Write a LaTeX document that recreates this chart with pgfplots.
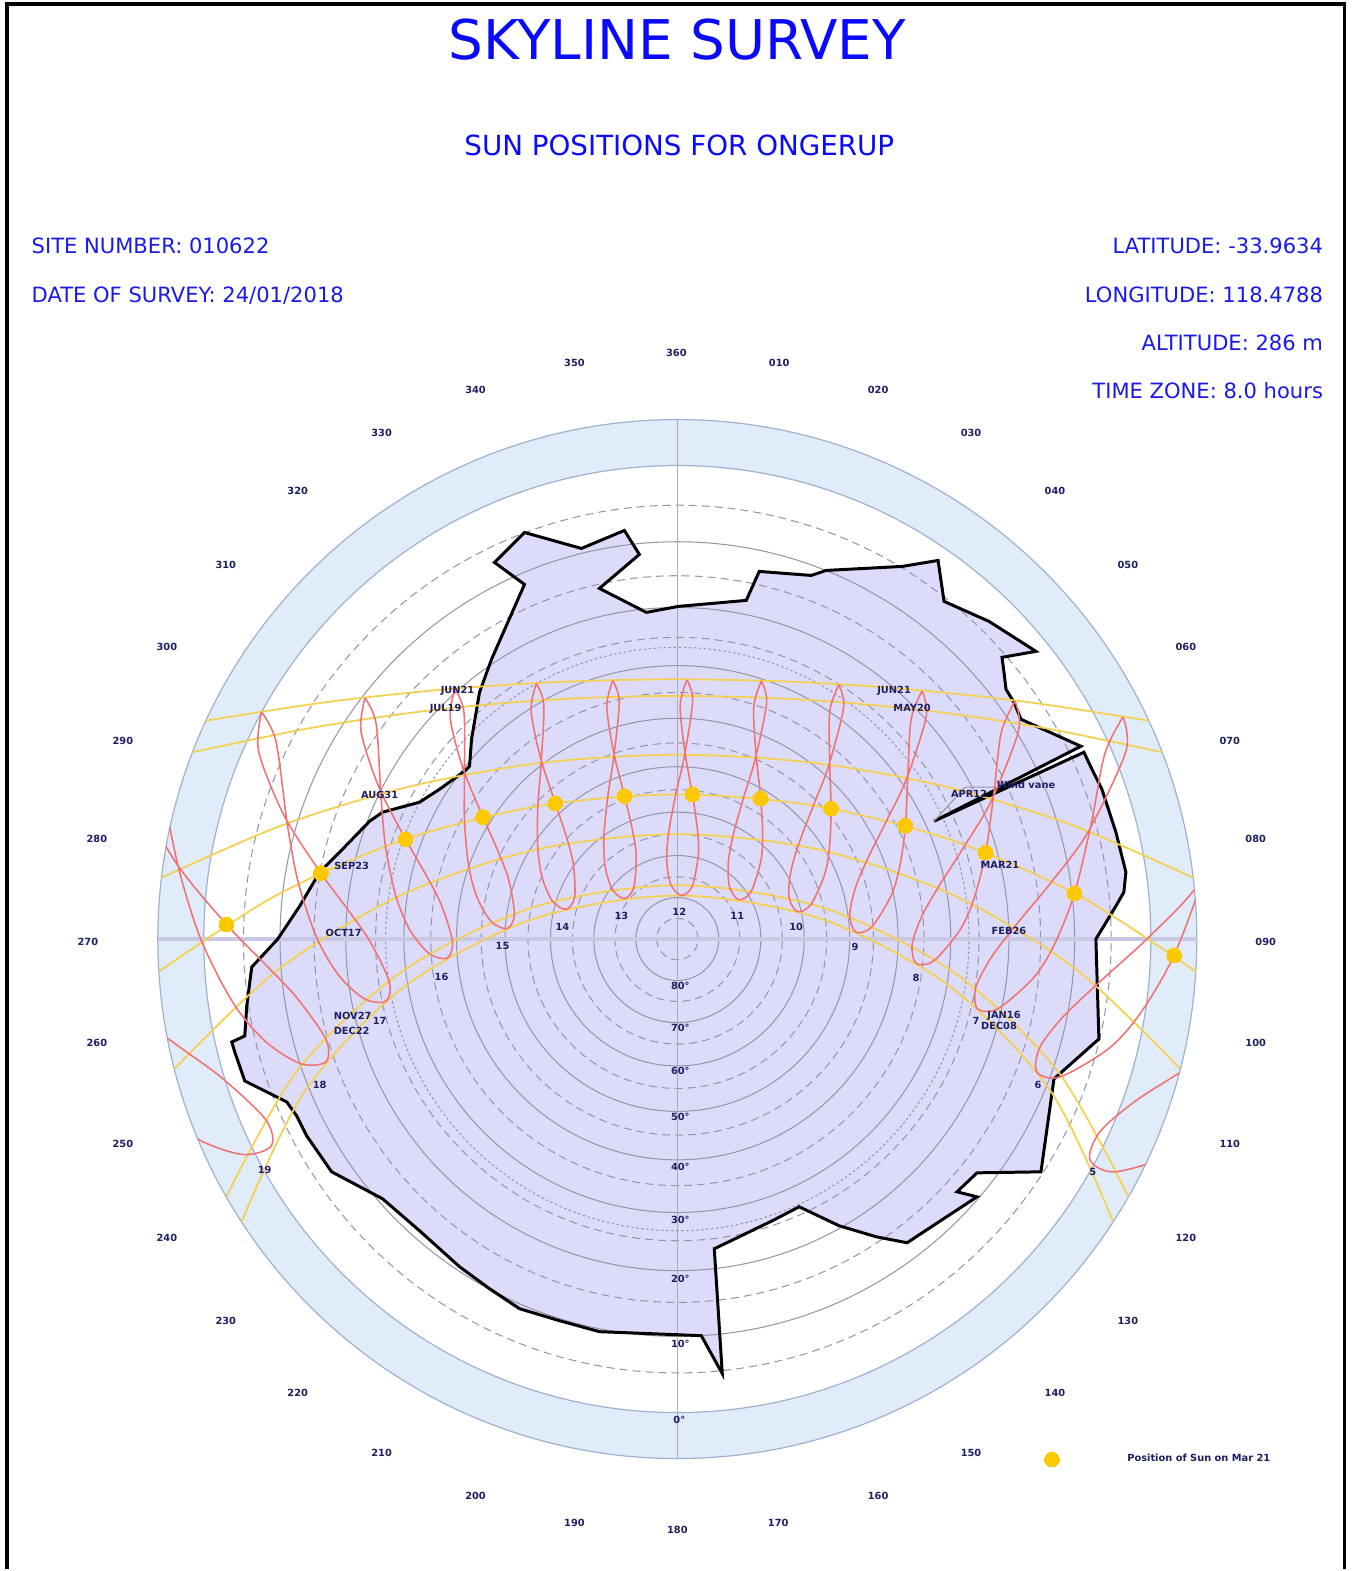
\documentclass[border=0pt]{standalone}
\usepackage{pgfplots}
\pgfplotsset{compat=1.18}
\usepackage{fontspec}
\setmainfont{DejaVu Sans}
\definecolor{hdrblue}{RGB}{25,25,235}
\definecolor{titblue}{RGB}{10,10,250}
\definecolor{navy}{RGB}{30,30,100}
\definecolor{bandblue}{RGB}{224,236,250}
\definecolor{bandline}{RGB}{160,178,208}
\definecolor{skyfill}{RGB}{220,220,250}
\definecolor{ringgray}{RGB}{150,150,168}
\definecolor{crossc}{RGB}{200,200,228}
\definecolor{sunyel}{RGB}{245,208,80}
\definecolor{analred}{RGB}{240,115,115}
\definecolor{dotgold}{RGB}{252,200,0}
\newcommand\sm{\fontsize{2.8}{3.2}\selectfont\bfseries\color{navy}}
\newcommand\hdr{\fontsize{6}{7}\selectfont\color{hdrblue}}
\tikzset{solidring/.style={ringgray, line width=0.3pt},
 dashring/.style={ringgray, line width=0.3pt, dash pattern=on 0.8mm off 0.5mm}}
\begin{document}
\begin{tikzpicture}
\begin{axis}[
  scale only axis, width=135.5mm, height=157.1mm,
  xmin=0, xmax=1355, ymin=0, ymax=1571, y dir=reverse,
  hide axis, clip=false,
]
% page extent
\path (axis cs:0,0) rectangle (axis cs:1355,1571);
% frame
\draw[black, line width=0.9pt] (axis cs:7,1571) -- (axis cs:7,4) -- (axis cs:1346,4) -- (axis cs:1346,1571);
% titles
\node[anchor=base, inner sep=0pt, font=\fontsize{15.6}{18}\selectfont, text=titblue] at (axis cs:678,60) {SKYLINE SURVEY};
\node[anchor=base, inner sep=0pt, font=\fontsize{7.9}{9}\selectfont, text=titblue] at (axis cs:680,156) {SUN POSITIONS FOR ONGERUP};
\node[anchor=base west, inner sep=0pt] at (axis cs:31,254) {\hdr SITE NUMBER: 010622};
\node[anchor=base west, inner sep=0pt] at (axis cs:31,303) {\hdr DATE OF SURVEY: 24/01/2018};
\node[anchor=base east, inner sep=0pt] at (axis cs:1325,254) {\hdr LATITUDE: -33.9634};
\node[anchor=base east, inner sep=0pt] at (axis cs:1325,303) {\hdr LONGITUDE: 118.4788};
\node[anchor=base east, inner sep=0pt] at (axis cs:1325,351) {\hdr ALTITUDE: 286 m};
\node[anchor=base east, inner sep=0pt] at (axis cs:1325,399) {\hdr TIME ZONE: 8.0 hours};
% horizon band
\fill[bandblue, even odd rule] (axis cs:678,940) circle[radius=52mm] circle[radius=47.4mm];
% skyline fill
\addplot[fill=skyfill, draw=none] coordinates {
(495,563) (525,533) (582,549) (625,531) (640,555) (600,589) (647,613) (679,607) (747,601) (760,572) (812,576) (827,571) (903,567) (939,561) (945,602) (990,622) (1037,652) (1003,658) (1005,673) (1007,690) (1015,703) (1022,720) (1082,747) (935,822) (1085,753) (1093,770) (1103,790) (1117,833) (1127,873) (1125,893) (1117,907) (1097,940) (1100,1040) (1055,1080) (1042,1173) (978,1174) (958,1193) (978,1198) (908,1244) (877,1238) (840,1227) (800,1208) (773,1222) (740,1238) (715,1250) (723,1375) (702,1337) (600,1333) (560,1322) (520,1310) (490,1290) (460,1268) (420,1232) (383,1200) (332,1173) (307,1137) (297,1117) (287,1103) (245,1082) (235,1053) (232,1043) (245,1037) (247,1007) (252,968) (278,940) (300,907) (320,873) (340,853) (370,822) (383,813) (420,803) (440,790) (465,772) (470,767) (472,740) (480,693) (492,660) (525,585)
} --cycle;
% band outlines
\draw[bandline, line width=0.35pt] (axis cs:678,940) circle[radius=52mm];
\draw[bandline, line width=0.35pt] (axis cs:678,940) circle[radius=47.4mm];
% altitude rings (stereographic)
\draw[solidring] (axis cs:678,940) circle[radius=39.77mm];
\draw[solidring] (axis cs:678,940) circle[radius=33.19mm];
\draw[solidring] (axis cs:678,940) circle[radius=27.37mm];
\draw[solidring] (axis cs:678,940) circle[radius=22.10mm];
\draw[solidring] (axis cs:678,940) circle[radius=17.25mm];
\draw[solidring] (axis cs:678,940) circle[radius=12.70mm];
\draw[solidring] (axis cs:678,940) circle[radius=8.36mm];
\draw[solidring] (axis cs:678,940) circle[radius=4.15mm];
\draw[dashring] (axis cs:678,940) circle[radius=43.43mm];
\draw[dashring] (axis cs:678,940) circle[radius=36.37mm];
\draw[dashring] (axis cs:678,940) circle[radius=30.20mm];
\draw[dashring] (axis cs:678,940) circle[radius=24.68mm];
\draw[dashring] (axis cs:678,940) circle[radius=19.63mm];
\draw[dashring] (axis cs:678,940) circle[radius=14.95mm];
\draw[dashring] (axis cs:678,940) circle[radius=10.51mm];
\draw[dashring] (axis cs:678,940) circle[radius=6.24mm];
\draw[dashring] (axis cs:678,940) circle[radius=2.07mm];
\draw[ringgray, line width=0.3pt, dash pattern=on 0.25mm off 0.25mm] (axis cs:678,940) circle[radius=29.2mm];
% cross lines
\draw[crossc, line width=1.0pt] (axis cs:158,940) -- (axis cs:1198,940);
\draw[ringgray!80, line width=0.3pt] (axis cs:678,420) -- (axis cs:678,1460);
% skyline outline
\addplot[black, line width=0.85pt] coordinates {
(495,563) (525,533) (582,549) (625,531) (640,555) (600,589) (647,613) (679,607) (747,601) (760,572) (812,576) (827,571) (903,567) (939,561) (945,602) (990,622) (1037,652) (1003,658) (1005,673) (1007,690) (1015,703) (1022,720) (1082,747) (935,822) (1085,753) (1093,770) (1103,790) (1117,833) (1127,873) (1125,893) (1117,907) (1097,940) (1100,1040) (1055,1080) (1042,1173) (978,1174) (958,1193) (978,1198) (908,1244) (877,1238) (840,1227) (800,1208) (773,1222) (740,1238) (715,1250) (723,1375) (702,1337) (600,1333) (560,1322) (520,1310) (490,1290) (460,1268) (420,1232) (383,1200) (332,1173) (307,1137) (297,1117) (287,1103) (245,1082) (235,1053) (232,1043) (245,1037) (247,1007) (252,968) (278,940) (300,907) (320,873) (340,853) (370,822) (383,813) (420,803) (440,790) (465,772) (470,767) (472,740) (480,693) (492,660) (525,585)
} --cycle;
\draw[ringgray, line width=0.3pt] (axis cs:935,822) -- (axis cs:966,788) -- (axis cs:1000,788);
\begin{scope}
\clip (axis cs:678,940) circle[radius=52mm];
% daily sun paths
\addplot[sunyel, line width=0.5pt, smooth] coordinates {(206.2,721.4) (323.4,703.3) (441.2,690.4) (559.5,682.6) (678,680) (796.5,682.6) (914.8,690.4) (1032.6,703.3) (1149.8,721.4)};
\addplot[sunyel, line width=0.5pt, smooth] coordinates {(192.8,753) (312.7,728.4) (433.8,710.7) (555.7,700.1) (678,696.6) (800.3,700.1) (922.2,710.7) (1043.3,728.4) (1163.2,753)};
\addplot[sunyel, line width=0.5pt, smooth] coordinates {(161.6,878.6) (284.4,825.3) (412.6,786.7) (544.4,763.3) (678,755.5) (811.6,763.3) (943.4,786.7) (1071.6,825.3) (1194.4,878.6)};
\addplot[sunyel, line width=0.5pt, smooth] coordinates {(159,972.5) (276,896.5) (403.8,840.8) (539,806.8) (678,795.3) (817,806.8) (952.2,840.8) (1080,896.5) (1197,972.5)};
\addplot[sunyel, line width=0.5pt, smooth] coordinates {(174.6,1070.1) (277.9,971) (400.2,896.7) (535.7,850.6) (678,835) (820.3,850.6) (955.8,896.7) (1078.1,971) (1181.4,1070.1)};
\addplot[sunyel, line width=0.5pt, smooth] coordinates {(226.6,1197.9) (298,1071.2) (403.7,971.6) (534.3,908) (678,886.1) (821.7,908) (952.3,971.6) (1058,1071.2) (1129.4,1197.9)};
\addplot[sunyel, line width=0.5pt, smooth] coordinates {(241.8,1222.9) (305.5,1091.7) (405.5,987.1) (534.4,919.7) (678,896.4) (821.6,919.7) (950.5,987.1) (1051.4,1091.7) (1114.2,1222.9)};
% analemmas (hours 5..19)
\addplot[analred, line width=0.45pt, smooth] coordinates {(687.6,680.5) (693.4,701.4) (685.2,756.4) (676.4,795.3) (669.3,833.4) (667.4,861.8) (671.5,885.4) (682.1,896.4) (692.9,887.2) (699.0,856.1) (698.1,830.2) (693.1,795.4) (685.2,750.2) (680.9,705.4) (687.6,680.5)};
\addplot[analred, line width=0.45pt, smooth] coordinates {(613.3,681.3) (619.9,702.2) (614.3,758.1) (608.3,798.2) (604.5,837.5) (605.6,866.4) (612.6,889.8) (624.6,899.5) (634.3,889.0) (636.8,857.2) (633.2,831.4) (625.2,796.9) (614.0,751.9) (607.4,706.8) (613.3,681.3)};
\addplot[analred, line width=0.45pt, smooth] coordinates {(762.2,681.8) (767.4,703.3) (756.2,759.0) (744.5,797.9) (733.9,835.7) (729.0,864.1) (730.4,888.2) (739.6,900.6) (751.7,892.7) (761.6,861.8) (763.4,835.3) (761.5,799.4) (756.6,752.7) (754.5,707.0) (762.2,681.8)};
\addplot[analred, line width=0.45pt, smooth] coordinates {(536.9,684.2) (544.4,705.8) (541.6,764.6) (538.4,806.8) (538.3,848.3) (542.7,878.4) (552.9,901.8) (566.6,910.2) (575.2,898.2) (573.9,865.2) (567.4,839.0) (555.9,804.1) (540.9,758.0) (531.6,711.1) (536.9,684.2)};
\addplot[analred, line width=0.45pt, smooth] coordinates {(839.6,685.4) (844.4,708.3) (829.5,766.5) (814.2,806.3) (799.6,844.6) (791.4,873.4) (789.9,898.4) (797.8,912.4) (811.4,905.9) (825.6,874.9) (830.4,847.3) (831.9,809.4) (830.4,759.9) (830.6,711.6) (839.6,685.4)};
\addplot[analred, line width=0.45pt, smooth] coordinates {(455.4,689.7) (464.4,712.8) (464.9,776.5) (465.0,822.5) (469.2,867.2) (477.8,898.9) (491.8,922.5) (507.6,929.5) (514.9,915.6) (509.3,881.0) (499.3,853.9) (483.5,817.9) (463.6,769.5) (450.7,719.2) (455.4,689.7)};
\addplot[analred, line width=0.45pt, smooth] coordinates {(922.9,691.6) (927.2,717.0) (907.4,779.7) (887.5,821.5) (867.7,861.2) (855.6,890.8) (850.6,917.1) (857.0,933.1) (872.4,928.1) (891.9,896.8) (900.6,867.6) (906.3,826.6) (908.9,772.6) (912.0,720.0) (922.9,691.6)};
\addplot[analred, line width=0.45pt, smooth] coordinates {(365.4,698.6) (376.5,724.3) (381.3,795.7) (385.9,847.1) (396.1,896.4) (410.0,930.4) (429.1,954.1) (447.3,959.2) (453.1,942.9) (441.9,906.2) (427.6,877.9) (406.0,840.0) (379.3,788.0) (361.4,732.2) (365.4,698.6)};
\addplot[analred, line width=0.45pt, smooth] coordinates {(1015.9,701.7) (1019.7,730.9) (992.7,800.8) (966.2,845.7) (939.7,887.3) (922.3,918.1) (913.0,946.1) (917.3,964.4) (935.0,961.6) (961.4,930.1) (975.2,898.7) (986.7,853.4) (995.0,792.8) (1002.2,733.5) (1015.9,701.7)};
\addplot[analred, line width=0.45pt, smooth] coordinates {(261.8,712.7) (276.3,742.3) (287.7,825.5) (298.9,884.7) (317.7,940.0) (339.2,976.5) (365.0,999.9) (386.3,1002.2) (389.8,983.1) (371.3,943.9) (350.9,914.2) (321.2,873.9) (284.5,816.6) (259.0,752.5) (261.8,712.7)};
\addplot[analred, line width=0.45pt, smooth] coordinates {(1124.1,717.6) (1126.9,752.6) (1088.9,833.2) (1052.8,882.5) (1016.5,926.5) (992.1,958.7) (976.8,988.3) (978.4,1009.7) (998.7,1009.8) (1034.4,978.9) (1055.6,945.1) (1075.6,894.2) (1092.4,824.1) (1105.9,754.6) (1124.1,717.6)};
\addplot[analred, line width=0.45pt, smooth] coordinates {(137.2,735.2) (157.1,770.8) (179.4,871.5) (201.6,941.6) (233.8,1004.6) (266.5,1043.2) (301.3,1064.8) (326.3,1062.8) (326.2,1040.3) (297.3,999.0) (268.3,968.1) (226.7,925.3) (174.5,861.1) (136.5,784.8) (137.2,735.2)};
\addplot[analred, line width=0.45pt, smooth] coordinates {(1256.0,743.0) (1256.9,787.5) (1200.8,883.7) (1149.6,938.4) (1099.0,984.5) (1064.4,1017.5) (1040.8,1048.5) (1038.0,1073.2) (1061.3,1077.9) (1109.7,1049.7) (1141.8,1013.9) (1175.3,956.2) (1206.2,872.9) (1230.4,788.1) (1256.0,743.0)};
\addplot[analred, line width=0.45pt, smooth] coordinates {(-21.2,772.5) (8.3,817.5) (50.9,945.0) (92.3,1029.8) (146.6,1100.6) (196.0,1139.2) (243.1,1155.7) (271.7,1146.8) (265.9,1120.6) (222.0,1078.9) (180.2,1048.3) (120.3,1004.3) (42.8,932.4) (-17.3,838.2) (-21.2,772.5)};
\addplot[analred, line width=0.45pt, smooth] coordinates {(1426.2,786.1) (1422.8,846.1) (1334.2,964.9) (1258.3,1024.7) (1185.8,1070.7) (1136.5,1102.2) (1100.9,1133.0) (1091.1,1161.1) (1117.2,1172.9) (1182.6,1152.4) (1231.2,1117.0) (1286.9,1052.8) (1343.2,951.8) (1387.3,843.8) (1426.2,786.1)};
\end{scope}
% Mar 21 positions
\addplot[dotgold, only marks, mark=*, mark size=2.1pt, mark options={draw=dotgold, fill=dotgold, line width=0pt}] coordinates {
(1175.3,956.2) (1075.6,894.2) (986.7,853.4) (906.3,826.6) (831.9,809.4) (761.5,799.4) (693.1,795.4) (625.2,796.9) (555.9,804.1) (483.5,817.9) (406.0,840.0) (321.2,873.9) (226.7,925.3)};
\addplot[dotgold, only marks, mark=*, mark size=2.1pt, mark options={draw=dotgold, fill=dotgold, line width=0pt}] coordinates {(1053,1461)};
\node at (axis cs:1200,1459) {\sm Position of Sun on Mar 21};
% hour labels
\node at (axis cs:680,913) {\sm 12};
\node at (axis cs:738,917) {\sm 11};
\node at (axis cs:622,917) {\sm 13};
\node at (axis cs:797,928) {\sm 10};
\node at (axis cs:563,928) {\sm 14};
\node at (axis cs:856,948) {\sm 9};
\node at (axis cs:503,947) {\sm 15};
\node at (axis cs:917,979) {\sm 8};
\node at (axis cs:442,978) {\sm 16};
\node at (axis cs:977,1022) {\sm 7};
\node at (axis cs:380,1022) {\sm 17};
\node at (axis cs:1039,1086) {\sm 6};
\node at (axis cs:320,1086) {\sm 18};
\node at (axis cs:1094,1173) {\sm 5};
\node at (axis cs:265,1171) {\sm 19};
% date labels
\node at (axis cs:458,692) {\sm JUN21};
\node at (axis cs:446,710) {\sm JUL19};
\node at (axis cs:380,796) {\sm AUG31};
\node at (axis cs:352,867) {\sm SEP23};
\node at (axis cs:344,934) {\sm OCT17};
\node at (axis cs:353,1017) {\sm NOV27};
\node at (axis cs:352,1032) {\sm DEC22};
\node at (axis cs:895,692) {\sm JUN21};
\node at (axis cs:913,709) {\sm MAY20};
\node at (axis cs:970,795) {\sm APR12};
\node at (axis cs:1001,866) {\sm MAR21};
\node at (axis cs:1010,932) {\sm FEB26};
\node at (axis cs:1005,1017) {\sm JAN16};
\node at (axis cs:1000,1027) {\sm DEC08};
\node at (axis cs:1027,786) {\sm Wind vane};
% altitude labels
\node at (axis cs:681,987) {\sm 80°};
\node at (axis cs:681,1029) {\sm 70°};
\node at (axis cs:681,1072) {\sm 60°};
\node at (axis cs:681,1118) {\sm 50°};
\node at (axis cs:681,1168) {\sm 40°};
\node at (axis cs:681,1221) {\sm 30°};
\node at (axis cs:681,1280) {\sm 20°};
\node at (axis cs:681,1345) {\sm 10°};
\node at (axis cs:680,1421) {\sm 0°};
% azimuth labels
\node at (axis cs:677,353) {\sm 360};
\node at (axis cs:780,363) {\sm 010};
\node at (axis cs:879,390) {\sm 020};
\node at (axis cs:972,433) {\sm 030};
\node at (axis cs:1056,491) {\sm 040};
\node at (axis cs:1129,565) {\sm 050};
\node at (axis cs:1187,648) {\sm 060};
\node at (axis cs:1231,742) {\sm 070};
\node at (axis cs:1257,840) {\sm 080};
\node at (axis cs:1267,943) {\sm 090};
\node at (axis cs:1257,1044) {\sm 100};
\node at (axis cs:1231,1145) {\sm 110};
\node at (axis cs:1187,1239) {\sm 120};
\node at (axis cs:1129,1322) {\sm 130};
\node at (axis cs:1056,1394) {\sm 140};
\node at (axis cs:972,1454) {\sm 150};
\node at (axis cs:879,1497) {\sm 160};
\node at (axis cs:779,1524) {\sm 170};
\node at (axis cs:678,1531) {\sm 180};
\node at (axis cs:575,1524) {\sm 190};
\node at (axis cs:476,1497) {\sm 200};
\node at (axis cs:382,1454) {\sm 210};
\node at (axis cs:298,1394) {\sm 220};
\node at (axis cs:226,1322) {\sm 230};
\node at (axis cs:167,1239) {\sm 240};
\node at (axis cs:123,1145) {\sm 250};
\node at (axis cs:97,1044) {\sm 260};
\node at (axis cs:88,943) {\sm 270};
\node at (axis cs:97,840) {\sm 280};
\node at (axis cs:123,742) {\sm 290};
\node at (axis cs:167,648) {\sm 300};
\node at (axis cs:226,565) {\sm 310};
\node at (axis cs:298,491) {\sm 320};
\node at (axis cs:382,433) {\sm 330};
\node at (axis cs:476,390) {\sm 340};
\node at (axis cs:575,363) {\sm 350};
\end{axis}
\end{tikzpicture}
\end{document}
